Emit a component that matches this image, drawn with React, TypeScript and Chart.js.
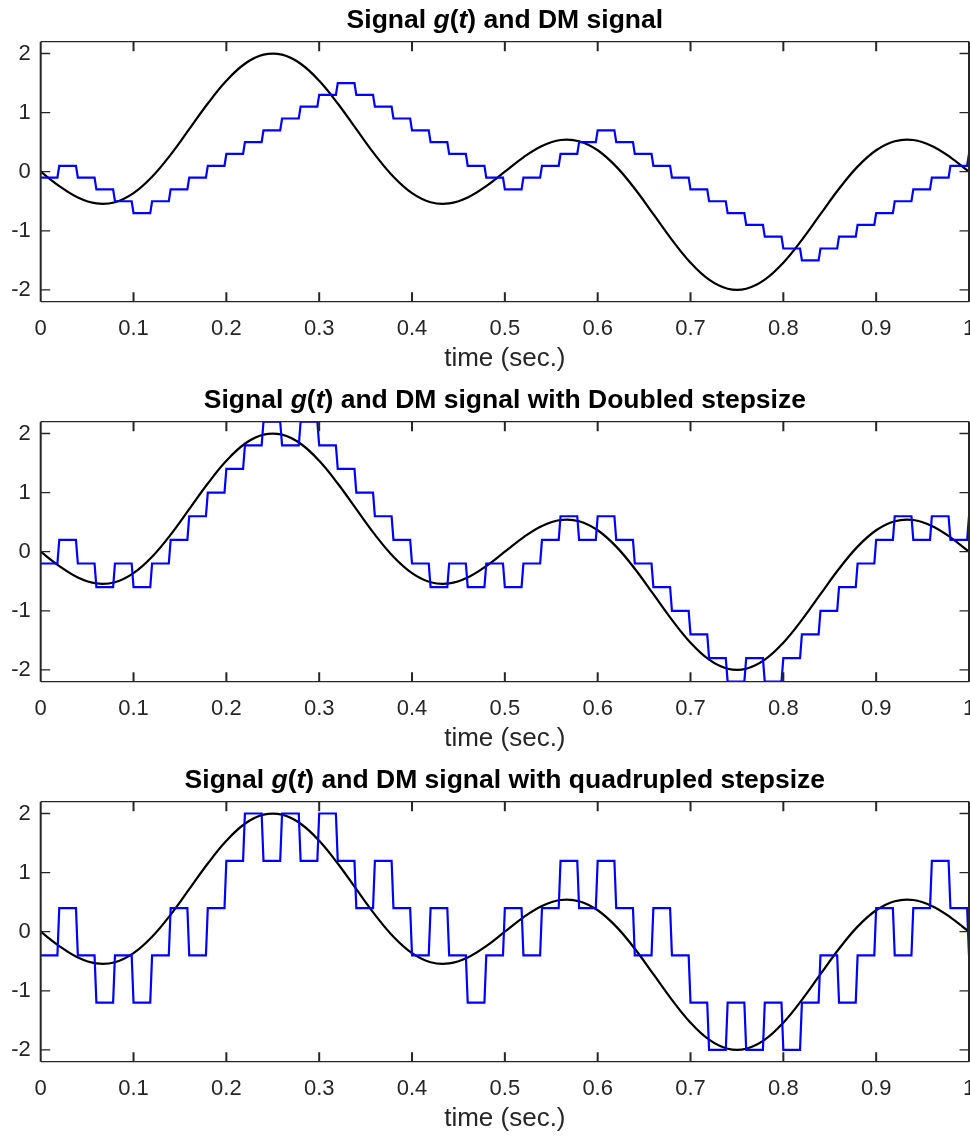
import React, { useEffect, useRef } from "react";
import { Chart, registerables } from "chart.js";

Chart.register(...registerables);

// ---- data ----
const sampleStep = 0.02; // DM sampling period (s)
const holdWidth = 0.018; // each DM level is held for ts - td
const signalValues = [
  0, -0.2428, -0.4359, -0.5367, -0.5163, -0.3633, -0.086, 0.2888, 0.719, 1.1535,
  1.5388, 1.8266, 1.9803, 1.9803, 1.8266, 1.5388, 1.1535, 0.719, 0.2888, -0.086,
  -0.3633, -0.5163, -0.5367, -0.4359, -0.2428, 0, 0.2428, 0.4359, 0.5367, 0.5163,
  0.3633, 0.086, -0.2888, -0.719, -1.1535, -1.5388, -1.8266, -1.9803, -1.9803, -1.8266,
  -1.5388, -1.1535, -0.719, -0.2888, 0.086, 0.3633, 0.5163, 0.5367, 0.4359, 0.2428, 0,
];
const dmStep1 = [
  -0.1, 0.1, -0.1, -0.3, -0.5, -0.7, -0.5, -0.3, -0.1, 0.1, 0.3, 0.5, 0.7, 0.9, 1.1, 1.3,
  1.5, 1.3, 1.1, 0.9, 0.7, 0.5, 0.3, 0.1, -0.1, -0.3, -0.1, 0.1, 0.3, 0.5, 0.7, 0.5, 0.3,
  0.1, -0.1, -0.3, -0.5, -0.7, -0.9, -1.1, -1.3, -1.5, -1.3, -1.1, -0.9, -0.7, -0.5, -0.3,
  -0.1, 0.1, 0.3,
];
const dmStep2 = [
  -0.2, 0.2, -0.2, -0.6, -0.2, -0.6, -0.2, 0.2, 0.6, 1.0, 1.4, 1.8, 2.2, 1.8, 2.2, 1.8,
  1.4, 1.0, 0.6, 0.2, -0.2, -0.6, -0.2, -0.6, -0.2, -0.6, -0.2, 0.2, 0.6, 0.2, 0.6, 0.2,
  -0.2, -0.6, -1.0, -1.4, -1.8, -2.2, -1.8, -2.2, -1.8, -1.4, -1.0, -0.6, -0.2, 0.2, 0.6,
  0.2, 0.6, 0.2, 0.6,
];
const dmStep4 = [
  -0.4, 0.4, -0.4, -1.2, -0.4, -1.2, -0.4, 0.4, -0.4, 0.4, 1.2, 2.0, 1.2, 2.0, 1.2, 2.0,
  1.2, 0.4, 1.2, 0.4, -0.4, 0.4, -0.4, -1.2, -0.4, 0.4, -0.4, 0.4, 1.2, 0.4, 1.2, 0.4,
  -0.4, 0.4, -0.4, -1.2, -2.0, -1.2, -2.0, -1.2, -2.0, -1.2, -0.4, -1.2, -0.4, 0.4, -0.4,
  0.4, 1.2, 0.4, -0.4,
];
const xTickValues = [0, 0.1, 0.2, 0.3, 0.4, 0.5, 0.6, 0.7, 0.8, 0.9, 1];
const xTickLabels = ["0", "0.1", "0.2", "0.3", "0.4", "0.5", "0.6", "0.7", "0.8", "0.9", "1"];
const yTickValues = [-2, -1, 0, 1, 2];
const yTickLabels = ["-2", "-1", "0", "1", "2"];
const yRange = [-2.2, 2.2];
const xLabel = "time (sec.)";
const titleBase = [
  { text: "Signal ", italic: false },
  { text: "g", italic: true },
  { text: "(", italic: false },
  { text: "t", italic: true },
  { text: ") and DM signal", italic: false },
];
const titleSuffixes = ["", " with Doubled stepsize", " with quadrupled stepsize"];
const dmSeries = [dmStep1, dmStep2, dmStep4];

// ---- style ----
const FONT = "'Liberation Sans', Arial, Helvetica, sans-serif";
const AXIS_COLOR = "#262626";
const W = 970;
const PLOT_LEFT = 40.7;
const PLOT_RIGHT = 969;
const PLOT_TOP = 41.7;
const PLOT_BOTTOM = 301.7;
const TICK_LEN = 9.5;
const LABEL_SIZE = 26;
const TICK_SIZE = 22;
const TITLE_SIZE = 26.5;

const framePlugin = {
  id: "matlabFrame",
  afterDatasetsDraw(chart: any) {
    const { ctx, chartArea: a, scales } = chart;
    ctx.save();
    ctx.strokeStyle = AXIS_COLOR;
    ctx.lineCap = "butt";
    ctx.lineWidth = 1.3;
    ctx.beginPath();
    ctx.moveTo(a.left, a.top);
    ctx.lineTo(a.right, a.top);
    ctx.moveTo(a.left, a.bottom);
    ctx.lineTo(a.right, a.bottom);
    for (const v of yTickValues) {
      const py = scales.y.getPixelForValue(v);
      ctx.moveTo(a.left, py);
      ctx.lineTo(a.left + TICK_LEN, py);
      ctx.moveTo(a.right, py);
      ctx.lineTo(a.right - TICK_LEN, py);
    }
    ctx.stroke();
    ctx.lineWidth = 2;
    ctx.beginPath();
    ctx.moveTo(a.left, a.top);
    ctx.lineTo(a.left, a.bottom);
    ctx.moveTo(a.right, a.top);
    ctx.lineTo(a.right, a.bottom);
    for (const v of xTickValues) {
      const px = scales.x.getPixelForValue(v);
      ctx.moveTo(px, a.bottom);
      ctx.lineTo(px, a.bottom - TICK_LEN);
      ctx.moveTo(px, a.top);
      ctx.lineTo(px, a.top + TICK_LEN);
    }
    ctx.stroke();
    ctx.restore();
  },
};

const titlePlugin = {
  id: "richTitle",
  afterDraw(chart: any, _args: any, opts: any) {
    const segs = opts.segments as { text: string; italic: boolean }[];
    if (!segs) return;
    const { ctx, chartArea: a } = chart;
    const size = opts.size || 26;
    const fontFor = (it: boolean) => `${it ? "italic " : ""}bold ${size}px ${FONT}`;
    ctx.save();
    ctx.fillStyle = "#000";
    ctx.textBaseline = "alphabetic";
    ctx.textAlign = "left";
    let total = 0;
    const widths = segs.map((s) => {
      ctx.font = fontFor(s.italic);
      const w = ctx.measureText(s.text).width;
      total += w;
      return w;
    });
    let x = (a.left + a.right) / 2 - total / 2;
    const y = a.top - (opts.gap || 13.5);
    segs.forEach((s, i) => {
      ctx.font = fontFor(s.italic);
      ctx.fillText(s.text, x, y);
      x += widths[i];
    });
    ctx.restore();
  },
};

function buildDmPoints(levels: number[]) {
  const pts: { x: number; y: number }[] = [];
  const last = levels.length - 1;
  levels.forEach((v, n) => {
    const t0 = n * sampleStep;
    if (n < last) {
      pts.push({ x: t0, y: v });
      pts.push({ x: t0 + holdWidth, y: v });
    } else {
      pts.push({ x: Math.min(t0, 1), y: v });
    }
  });
  return pts;
}

function buildSignalPoints() {
  return signalValues.map((v, n) => ({ x: n * sampleStep, y: v }));
}

function makeChart(canvas: HTMLCanvasElement, idx: number, height: number) {
  const labelLine = LABEL_SIZE * 1.2;
  const labelCenter = 358.5;
  const titlePadBottom = height - labelCenter - labelLine / 2;
  return new Chart(canvas, {
    type: "line",
    data: {
      datasets: [
        {
          data: buildDmPoints(dmSeries[idx]),
          borderColor: "#0000ff",
          borderWidth: 2.2,
          pointRadius: 0,
          tension: 0,
          fill: false,
        },
        {
          data: buildSignalPoints(),
          borderColor: "#000000",
          borderWidth: 2.2,
          pointRadius: 0,
          tension: 0.4,
          fill: false,
        },
      ],
    },
    options: {
      animation: false,
      responsive: false,
      maintainAspectRatio: false,
      devicePixelRatio: 1,
      events: [],
      layout: { padding: { top: PLOT_TOP, right: W - PLOT_RIGHT, left: 0, bottom: 0 } },
      plugins: {
        legend: { display: false },
        tooltip: { enabled: false },
        title: { display: false },
        richTitle: {
          segments: [...titleBase, { text: titleSuffixes[idx], italic: false }],
          size: TITLE_SIZE,
          gap: 13.5,
        },
      } as any,
      scales: {
        x: {
          type: "linear",
          min: 0,
          max: 1,
          grid: { display: false, drawTicks: false },
          border: { display: false },
          ticks: {
            font: { size: TICK_SIZE, family: FONT },
            color: AXIS_COLOR,
            padding: 14,
            maxRotation: 0,
            autoSkip: false,
            callback: (_v: any, i: number) => xTickLabels[i],
          },
          title: {
            display: true,
            text: xLabel,
            color: AXIS_COLOR,
            font: { size: LABEL_SIZE, family: FONT },
            padding: { top: 0, bottom: titlePadBottom },
          },
          afterBuildTicks: (s: any) => {
            s.ticks = xTickValues.map((v) => ({ value: v }));
          },
          afterFit: (s: any) => {
            s.height = height - PLOT_BOTTOM;
            s.paddingLeft = 0;
            s.paddingRight = 0;
          },
        },
        y: {
          type: "linear",
          min: yRange[0],
          max: yRange[1],
          grid: { display: false, drawTicks: false },
          border: { display: false },
          ticks: {
            font: { size: TICK_SIZE, family: FONT },
            color: AXIS_COLOR,
            padding: 10,
            autoSkip: false,
            callback: (_v: any, i: number) => yTickLabels[i],
          },
          afterBuildTicks: (s: any) => {
            s.ticks = yTickValues.map((v) => ({ value: v }));
          },
          afterFit: (s: any) => {
            s.width = PLOT_LEFT;
            s.paddingTop = 0;
            s.paddingBottom = 0;
          },
        },
      },
    } as any,
    plugins: [framePlugin, titlePlugin],
  });
}

const PANEL_TOPS = [0, 380, 760];
const PANEL_HEIGHTS = [380, 380, 378];

export default function App() {
  const refs = [useRef<HTMLCanvasElement>(null), useRef<HTMLCanvasElement>(null), useRef<HTMLCanvasElement>(null)];
  useEffect(() => {
    const charts = refs.map((r, i) => (r.current ? makeChart(r.current, i, PANEL_HEIGHTS[i]) : null));
    return () => charts.forEach((c) => c && c.destroy());
  }, []);
  return (
    <div
      style={{
        position: "absolute",
        left: 0,
        top: 0,
        width: W,
        height: 1138,
        overflow: "hidden",
        background: "#fff",
      }}
    >
      {PANEL_TOPS.map((top, i) => (
        <canvas
          key={i}
          ref={refs[i]}
          width={W}
          height={PANEL_HEIGHTS[i]}
          style={{ position: "absolute", left: 0, top, width: W, height: PANEL_HEIGHTS[i], display: "block" }}
        />
      ))}
    </div>
  );
}
